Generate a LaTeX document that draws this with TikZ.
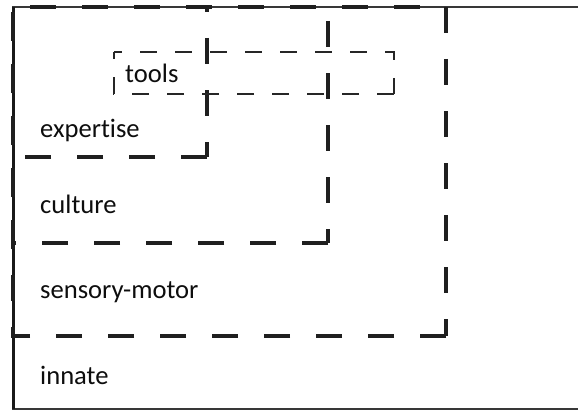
\documentclass[tikz,border=0pt]{standalone}
\usepackage{fontspec}
\setmainfont{Carlito}[Ligatures=CommonOff]
\begin{document}
\begin{tikzpicture}[x=1pt,y=-1pt,
  frame/.style={line width=2.2pt, draw=black!78},
  zone/.style={line width=3.6pt, draw=black!88, dash pattern=on 26pt off 26pt},
  toolzone/.style={line width=1.7pt, draw=black!85, dash pattern=on 17pt off 18pt},
  lbl/.style={anchor=base west, inner sep=0pt, text=black!95,
              font=\fontsize{26.6}{30}\selectfont}]
\useasboundingbox (0,0) rectangle (578,412);
\clip (0,0) rectangle (578,412);

% corners
\coordinate (tl) at (13,7);
\coordinate (tr) at (600,7);
\coordinate (bl) at (13,409);
\coordinate (br) at (600,409);

% outer frame (open on the right)
\draw[frame] (tr) -- (tl) -- (bl) -- (br);
\draw[frame, line width=3pt, draw=black!90] (tl) -- (bl);

% nested zones, all anchored at the top-left corner
\coordinate (sm) at (446,336);
\coordinate (cu) at (328,243);
\coordinate (ex) at (207,157);
\foreach \c in {sm,cu,ex}{
  \draw[zone, dash phase=35pt] (tl) -| (\c);
  \draw[zone] (\c) -| (tl);
}

% tools box
\coordinate (tA) at (114,52);
\coordinate (tB) at (394,94);
\draw[toolzone, dash phase=9pt] (tA) -| (tB);
\draw[toolzone] (tB) -| (tA);

% labels
\node[lbl] (tools)   at (125,82)  {tools};
\node[lbl] (expert)  at (40,137)  {expertise};
\node[lbl] (culture) at (40,213)  {culture};
\node[lbl] (sensory) at (40,298)  {sensory-motor};
\node[lbl] (innate)  at (40,384)  {innate};
\end{tikzpicture}
\end{document}
